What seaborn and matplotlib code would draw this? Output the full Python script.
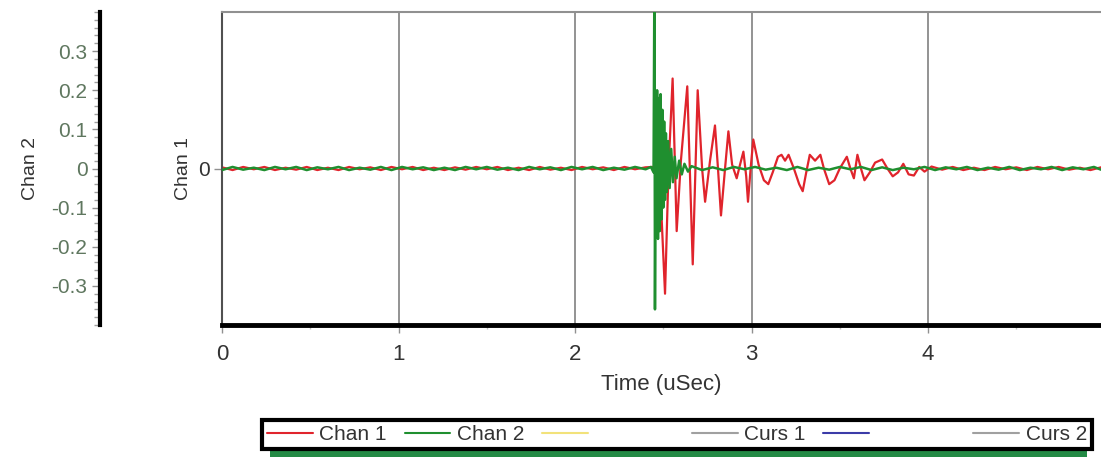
import numpy as np
import pandas as pd
import seaborn as sns
import matplotlib.pyplot as plt
from matplotlib.lines import Line2D
from matplotlib.patches import Rectangle
from matplotlib.ticker import MultipleLocator

# Chan 1 (vermelho): tempo (uSec) e amplitude
chan1_time = [0.00, 0.06, 0.12, 0.18, 0.24, 0.30, 0.36, 0.42, 0.48, 0.54, 0.60, 0.66, 0.72, 0.78,
              0.84, 0.90, 0.96, 1.02, 1.08, 1.14, 1.20, 1.26, 1.32, 1.38, 1.44, 1.50, 1.56, 1.62,
              1.68, 1.74, 1.80, 1.86, 1.92, 1.98, 2.04, 2.10, 2.16, 2.22, 2.28, 2.34, 2.40,
              2.44, 2.47, 2.49, 2.51, 2.53, 2.553, 2.576, 2.60, 2.636, 2.667, 2.695, 2.72, 2.737,
              2.765, 2.793, 2.81, 2.827, 2.85, 2.869, 2.89, 2.916, 2.935, 2.954, 2.97, 2.98, 2.995,
              3.01, 3.04, 3.07, 3.095, 3.12, 3.15, 3.17, 3.19, 3.21, 3.24, 3.27, 3.29, 3.31, 3.33,
              3.36, 3.39, 3.41, 3.44, 3.47, 3.50, 3.54, 3.56, 3.58, 3.60, 3.62, 3.64, 3.67, 3.70,
              3.74, 3.77, 3.80, 3.83, 3.86, 3.89, 3.92, 3.95, 3.98, 4.02,
              4.08, 4.14, 4.20, 4.26, 4.32, 4.38, 4.44, 4.50, 4.56, 4.62, 4.68, 4.74, 4.80, 4.86,
              4.92, 4.98]
chan1_amp = [0.003, -0.004, 0.004, -0.002, 0.004, -0.004, 0.002, -0.003, 0.004, -0.004, 0.002,
             -0.004, 0.004, -0.002, 0.003, -0.004, 0.004, -0.002, 0.004, -0.004, 0.002, -0.004,
             0.003, -0.003, 0.004, -0.002, 0.004, -0.004, 0.002, -0.004, 0.004, -0.003, 0.002,
             -0.004, 0.004, -0.002, 0.003, -0.004, 0.004, -0.002, 0.003,
             0.004, -0.02, -0.12, -0.32, 0.00, 0.23, -0.16, 0.02, 0.21, -0.245, 0.20, 0.00, -0.085,
             0.02, 0.11, 0.00, -0.12, 0.00, 0.095, 0.01, -0.025, 0.01, 0.043, -0.02, -0.085, 0.00,
             0.074, 0.01, -0.03, -0.04, -0.01, 0.03, 0.035, 0.02, 0.035, 0.00, -0.04, -0.058, -0.01,
             0.035, 0.02, 0.035, 0.00, -0.04, -0.03, 0.00, 0.03, 0.00, -0.025, 0.035, 0.00, -0.03,
             -0.01, 0.015, 0.023, 0.00, -0.02, -0.01, 0.012, -0.015, -0.018, 0.004, -0.008, 0.005,
             -0.003, 0.004, -0.004, 0.002, -0.004, 0.004, -0.002, 0.003, -0.004, 0.004, -0.002,
             0.004, -0.003, 0.002, -0.004, 0.003]

# Chan 2 (verde)
chan2_time = [0.00, 0.06, 0.12, 0.18, 0.24, 0.30, 0.36, 0.42, 0.48, 0.54, 0.60, 0.66, 0.72, 0.78,
              0.84, 0.90, 0.96, 1.02, 1.08, 1.14, 1.20, 1.26, 1.32, 1.38, 1.44, 1.50, 1.56, 1.62,
              1.68, 1.74, 1.80, 1.86, 1.92, 1.98, 2.04, 2.10, 2.16, 2.22, 2.28, 2.34, 2.40,
              2.43, 2.445, 2.450, 2.453, 2.457, 2.46, 2.465, 2.47, 2.475, 2.48, 2.485, 2.49, 2.495,
              2.50, 2.505, 2.51, 2.515, 2.52, 2.528, 2.536, 2.545, 2.555, 2.565, 2.575, 2.59, 2.605,
              2.62, 2.64, 2.66,
              2.72, 2.78, 2.84, 2.90, 2.96, 3.02, 3.08, 3.14, 3.20, 3.26, 3.32, 3.38, 3.44, 3.50,
              3.56, 3.62, 3.68, 3.74, 3.80, 3.86, 3.92, 3.98, 4.04, 4.10, 4.16, 4.22, 4.28, 4.34,
              4.40, 4.46, 4.52, 4.58, 4.64, 4.70, 4.76, 4.82, 4.88, 4.94, 4.98]
chan2_amp = [-0.004, 0.004, -0.003, 0.002, -0.004, 0.004, -0.002, 0.004, -0.004, 0.003, -0.002,
             0.004, -0.004, 0.002, -0.003, 0.004, -0.004, 0.004, -0.002, 0.003, -0.004, 0.002,
             -0.004, 0.004, -0.002, 0.004, -0.003, 0.002, -0.004, 0.004, -0.002, 0.003, -0.004,
             0.004, -0.002, 0.004, -0.004, 0.002, -0.003, 0.004, -0.002,
             0.004, -0.01, 0.50, -0.36, 0.05, -0.15, 0.20, -0.18, 0.18, -0.16, 0.19, -0.13, 0.15,
             -0.10, 0.12, -0.08, 0.09, -0.06, 0.07, -0.05, 0.05, -0.035, 0.03, -0.025, 0.02,
             -0.015, 0.012, -0.008, 0.006,
             -0.004, 0.003, -0.004, 0.004, -0.002, 0.004, -0.003, 0.002, -0.004, 0.004, -0.004,
             0.002, -0.003, 0.004, -0.002, 0.004, -0.004, 0.003, -0.004, 0.002, -0.002, 0.004,
             -0.004, 0.003, -0.002, 0.004, -0.004, 0.002, -0.003, 0.004, -0.004, 0.002, -0.002,
             0.004, -0.004, 0.003, -0.002, 0.004, -0.003]

x_ticks = [0, 1, 2, 3, 4]
chan2_ticks = [-0.3, -0.2, -0.1, 0, 0.1, 0.2, 0.3]
legend_labels = ['Chan 1', 'Chan 2', ' ' * 14, 'Curs 1', ' ' * 14, 'Curs 2']
legend_colors = ['#e0242c', '#1f8f2f', '#f2e27a', '#a0a0a0', '#3b3ba8', '#a0a0a0']

df1 = pd.DataFrame({'tempo': chan1_time, 'amp': chan1_amp})
df2 = pd.DataFrame({'tempo': chan2_time, 'amp': chan2_amp})

sns.set_style("white")
plt.rcParams['font.family'] = ['Liberation Sans', 'DejaVu Sans']

W, H = 1101, 457
fig = plt.figure(figsize=(W / 100, H / 100), dpi=100)
ax = fig.add_axes([222 / W, 1 - 325 / H, 879 / W, 313 / H])

sns.lineplot(data=df1, x='tempo', y='amp', ax=ax, color='#e0242c', linewidth=1.6,
             sort=False, estimator=None)
ax.set_xlim(0, 4.98)
ax.set_ylim(-0.4, 0.4)

# eixo do Chan 2 deslocado para a esquerda
ax2 = ax.twinx()
sns.lineplot(data=df2, x='tempo', y='amp', ax=ax2, color='#1f8f2f', linewidth=1.8,
             sort=False, estimator=None)
ax2.set_ylim(-0.4, 0.4)
ax2.set_xlim(0, 4.98)

# grade vertical
for t in x_ticks[1:]:
    ax.axvline(t, color='#8a8a8a', linewidth=1.3, zorder=0)

# estilo do eixo principal
ax.spines['right'].set_visible(False)
ax.spines['top'].set_color('#909090')
ax.spines['top'].set_linewidth(1.5)
ax.spines['left'].set_color('#505050')
ax.spines['left'].set_linewidth(1.5)
ax.spines['bottom'].set_color('black')
ax.spines['bottom'].set_linewidth(3.5)
ax.set_xticks(x_ticks)
ax.xaxis.set_minor_locator(MultipleLocator(0.5))
ax.tick_params(axis='x', which='major', bottom=True, length=6, width=1, color='#909090',
               labelsize=16, labelcolor='#333333', pad=8)
ax.tick_params(axis='x', which='minor', bottom=True, length=3, width=1, color='#c0c0c0')
ax.set_yticks([0])
ax.set_yticklabels(['0'])
ax.tick_params(axis='y', left=True, length=6, width=1, color='#909090',
               labelsize=15, labelcolor='#333333', pad=3)
ax.set_xlabel('Time (uSec)', fontsize=16, color='#333333', labelpad=6)
ax.set_ylabel('Chan 1', fontsize=14, color='#333333', labelpad=4)

for s in ['top', 'right', 'bottom']:
    ax2.spines[s].set_visible(False)
ax2.spines['left'].set_visible(True)
ax2.spines['left'].set_position(('axes', -122 / 879))
ax2.spines['left'].set_color('black')
ax2.spines['left'].set_linewidth(3)
ax2.yaxis.tick_left()
ax2.yaxis.set_label_position('left')
ax2.set_yticks(chan2_ticks)
ax2.set_yticklabels(['-0.3', '-0.2', '-0.1', '0', '0.1', '0.2', '0.3'])
ax2.yaxis.set_minor_locator(MultipleLocator(0.02))
ax2.tick_params(axis='y', which='major', length=6, width=1, color='#909090',
                labelsize=15, labelcolor='#5f775f', pad=3)
ax2.tick_params(axis='y', which='minor', length=4, width=1, color='#a0a0a0')
ax2.set_ylabel('Chan 2', fontsize=14, color='#333333', labelpad=9)
ax2.set_xlabel('')
ax2.tick_params(axis='x', which='both', bottom=False, top=False, labelbottom=False)

# legenda com sombra verde
handles = [Line2D([0], [0], color=c, linewidth=1.5) for c in legend_colors]
fig.add_artist(Rectangle((270 / W, 0), (1087 - 270) / W, 30 / H, transform=fig.transFigure,
                         facecolor='#238a45', edgecolor='none', zorder=0))
leg = fig.legend(handles, legend_labels, ncol=6, loc='lower left',
                 bbox_to_anchor=(262 / W, 1 - 449 / H, (1092 - 262) / W, 33 / H),
                 mode='expand', frameon=True, fancybox=False, borderaxespad=0,
                 handlelength=2.2, handletextpad=0.3, columnspacing=1.0,
                 fontsize=15, borderpad=0.25)
leg.get_frame().set_edgecolor('black')
leg.get_frame().set_linewidth(3)
leg.get_frame().set_facecolor('white')
leg.get_frame().set_alpha(1)
for txt in leg.get_texts():
    txt.set_color('#333333')

fig.savefig('out.png', dpi=100)
